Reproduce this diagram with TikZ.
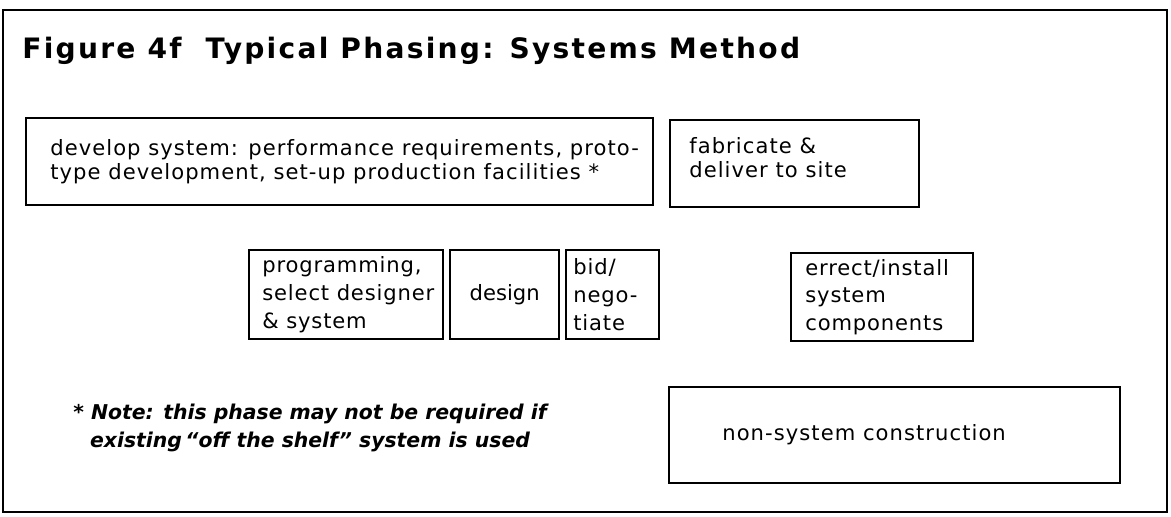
\documentclass[tikz,border=0pt]{standalone}
\usepackage{fontspec}
\setmainfont{DejaVu Sans}
\usepackage{tikz}
\usetikzlibrary{positioning}
\tikzset{frame/.style={draw, line width=1.4pt}}
\tikzset{phase/.style={draw, line width=1.3pt, anchor=north west, inner sep=0pt}}
\tikzset{phasetxt/.style={align=left, inner sep=0pt, font=\addfontfeatures{LetterSpace=5}\fontsize{12}{13.6}\selectfont}}
\tikzset{phasetxtm/.style={phasetxt, font=\addfontfeatures{LetterSpace=4}\fontsize{12}{15.8}\selectfont}}
\tikzset{title/.style={anchor=base west, inner sep=0pt, font=\bfseries\addfontfeatures{LetterSpace=8}\fontsize{16}{18}\selectfont}}
\tikzset{note/.style={align=center, inner sep=0pt, font=\bfseries\itshape\fontsize{11.6}{16.4}\selectfont}}

\begin{document}
\begin{tikzpicture}
\useasboundingbox (0,0) rectangle (23.42,-10.32);
\draw[frame] (0.06,-0.2) rectangle (23.34,-10.24);
\node[title](ttl) at (0.44,-1.16) {Figure 4f\ \ Typical Phasing: Systems Method};
% upper row
\node[phase, minimum width=12.54cm, minimum height=1.74cm](dev) at (0.5,-2.34) {};
\node[phasetxt, right=0.5cm of dev.west](devtxt)
  {develop system: performance requirements, proto-\\type development, set-up production facilities *};
\node[phase, minimum width=4.98cm, minimum height=1.74cm](fab) at (13.38,-2.38) {};
\node[phasetxt, right=0.4cm of fab.west, yshift=0.12cm](fabtxt) {fabricate \&\\deliver to site};
% middle row
\node[phase, minimum width=3.88cm, minimum height=1.78cm](prog) at (4.96,-4.98) {};
\node[phasetxtm, right=0.28cm of prog.west](progtxt) {programming,\\select designer\\\& system};
\node[phase, minimum width=2.18cm, minimum height=1.78cm, font=\fontsize{12}{15.8}\selectfont](des) at (8.98,-4.98) {design};
\node[phase, minimum width=1.86cm, minimum height=1.78cm](bid) at (11.3,-4.98) {};
\node[phasetxtm, right=0.16cm of bid.west](bidtxt) {bid/\\nego-\\tiate};
\node[phase, minimum width=3.64cm, minimum height=1.76cm](inst) at (15.8,-5.04) {};
\node[phasetxtm, right=0.3cm of inst.west](insttxt) {errect/install\\system\\components};
% lower row
\node[phase, minimum width=9.02cm, minimum height=1.92cm](nsc) at (13.36,-7.72) {};
\node[phasetxt, right=1.08cm of nsc.west](nsctxt) {non-system construction};
\node[note](nt) at (6.2,-8.56) {* Note: this phase may not be required if\\existing\,``off the shelf'' system is used};
\end{tikzpicture}
\end{document}
